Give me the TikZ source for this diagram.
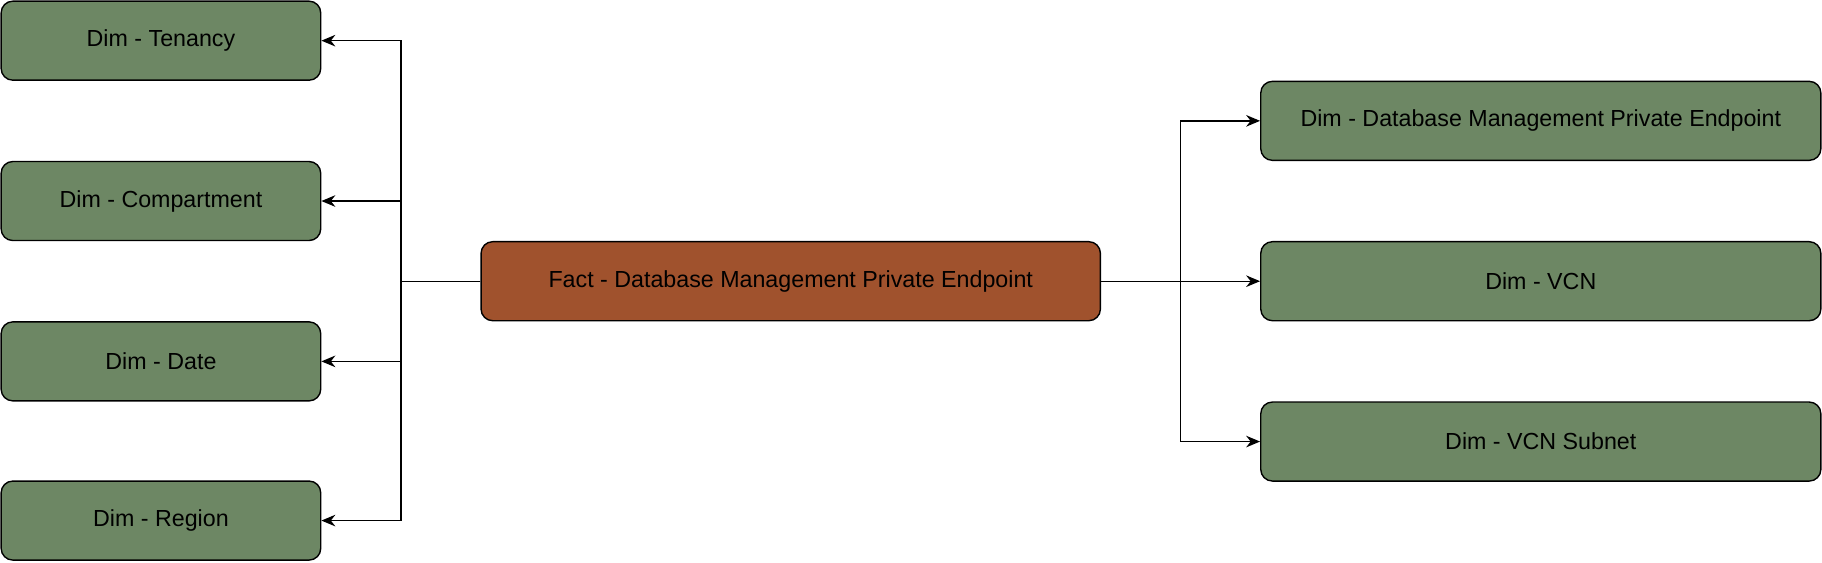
\documentclass[tikz,border=0pt]{standalone}
\usepackage{fontspec}
\setmainfont{Liberation Sans}
\usetikzlibrary{arrows.meta}
\definecolor{dimgreen}{HTML}{6D8764}
\definecolor{factbrown}{HTML}{A0522D}
\tikzset{
  tbl/.style={draw=black, line width=1.2pt, rounded corners=10pt, minimum height=68pt, inner sep=0pt, font=\fontsize{20}{24}\selectfont},
  dim/.style={tbl, fill=dimgreen},
  fact/.style={tbl, fill=factbrown},
  link/.style={line width=1.2pt, -{Stealth[length=12pt,width=10pt]}}
}
\begin{document}
\begin{tikzpicture}[x=1pt,y=-1pt]
\useasboundingbox (0,0) rectangle (1568,484);

\node[dim, minimum width=275pt] (tenancy) at (138.5,35){Dim - Tenancy};
\node[dim, minimum width=275pt] (compartment) at (138.5,173){Dim - Compartment};
\node[dim, minimum width=275pt] (date) at (138.5,311){Dim - Date};
\node[dim, minimum width=275pt] (region) at (138.5,448){Dim - Region};

\node[fact, minimum width=533pt] (fact) at (680.5,242){Fact - Database Management Private Endpoint};

\node[dim, minimum width=482pt] (endpoint) at (1326,104){Dim - Database Management Private Endpoint};
\node[dim, minimum width=482pt] (vcn) at (1326,242){Dim - VCN};
\node[dim, minimum width=482pt] (subnet) at (1326,380){Dim - VCN Subnet};

\coordinate (lt) at (345,242);
\coordinate (rt) at (1016,242);

\foreach \n in {tenancy,compartment,date,region}
  \draw[link] (fact.west) -- (lt) |- (\n.east);
\foreach \n in {endpoint,vcn,subnet}
  \draw[link] (fact.east) -- (rt) |- (\n.west);

\end{tikzpicture}
\end{document}
